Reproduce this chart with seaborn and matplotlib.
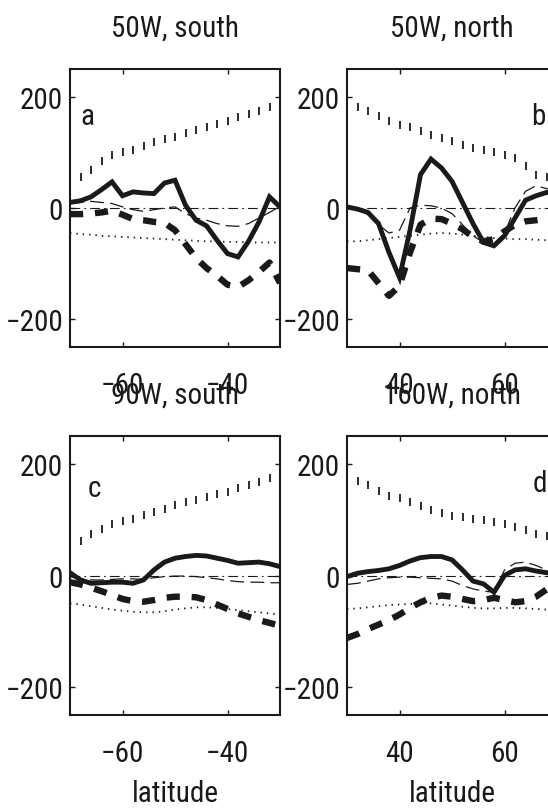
import os
import matplotlib
matplotlib.use("Agg")
import matplotlib.pyplot as plt
from matplotlib import font_manager as fm
from matplotlib.textpath import TextPath
import seaborn as sns

# ---------------- data ----------------
lat_south = [-70, -68, -66, -64, -62, -60, -58, -56, -54, -52, -50,
             -48, -46, -44, -42, -40, -38, -36, -34, -32, -30]
lat_north = [30, 32, 34, 36, 38, 40, 42, 44, 46, 48, 50,
             52, 54, 56, 58, 60, 62, 64, 66, 68, 70]

titles = ["50W, south", "50W, north", "90W, south", "160W, north"]
panel_letters = ["a", "b", "c", "d"]
xticks_south = [-60, -40]
xticks_north = [40, 60]
yticks = [-200, 0, 200]
xlabel_text = "latitude"

# panel a (50W, south)
a_upper = [45, 55, 68, 85, 95, 100, 105, 112, 118, 124, 128, 134, 140, 146, 151, 157, 163, 169, 175, 182, 192]
a_lower = [-45, -47, -48, -50, -51, -52, -53, -54, -55, -56, -57, -58, -59, -60, -60, -61, -61, -62, -62, -62, -62]
a_solid = [10, 13, 20, 33, 47, 22, 29, 27, 26, 45, 50, 5, -22, -32, -58, -82, -88, -60, -25, 20, 2]
a_thick = [-11, -11, -10, -8, -5, -12, -20, -22, -25, -27, -40, -65, -90, -108, -122, -138, -142, -130, -115, -98, -135]
a_thin = [8, 10, 12, 10, 8, 2, -3, -6, -3, 0, 2, -10, -18, -22, -28, -32, -33, -28, -18, -8, 3]

# panel b (50W, north)
b_upper = [190, 182, 175, 166, 156, 150, 145, 138, 132, 126, 120, 114, 108, 104, 100, 96, 90, 76, 60, 55, 52]
b_lower = [-60, -60, -58, -56, -54, -52, -50, -48, -46, -45, -46, -48, -50, -52, -54, -55, -56, -56, -57, -58, -58]
b_solid = [2, -2, -8, -28, -80, -125, -40, 60, 88, 72, 48, 10, -28, -62, -68, -50, -18, 14, 22, 28, 25]
b_thick = [-108, -110, -112, -135, -158, -140, -80, -30, -19, -20, -28, -38, -52, -60, -56, -42, -30, -24, -22, -19, -18]
b_thin = [2, -3, -12, -30, -45, -40, 0, 5, 4, 0, -10, -30, -50, -62, -64, -45, 0, 30, 40, 35, 30]

# panel c (90W, south)
c_upper = [52, 62, 74, 84, 92, 97, 102, 108, 114, 120, 126, 131, 136, 141, 146, 150, 156, 162, 167, 174, 185]
c_lower = [-50, -52, -55, -58, -61, -63, -65, -66, -66, -64, -61, -59, -57, -57, -58, -60, -62, -64, -66, -68, -70]
c_solid = [5, -8, -14, -13, -12, -12, -14, -8, 10, 24, 31, 34, 36, 35, 31, 27, 22, 23, 24, 21, 16]
c_thick = [-12, -16, -22, -28, -35, -42, -46, -47, -44, -40, -38, -38, -39, -44, -52, -60, -68, -74, -80, -85, -90]
c_thin = [-2, -6, -8, -8, -7, -6, -6, -7, -4, -2, -1, -1, -2, -4, -6, -9, -11, -12, -12, -13, -13]

# panel d (160W, north)
d_upper = [180, 170, 162, 152, 143, 138, 132, 125, 118, 112, 107, 104, 101, 99, 96, 92, 87, 82, 74, 70, 68]
d_lower = [-60, -59, -57, -55, -53, -52, -51, -50, -50, -52, -54, -56, -58, -59, -59, -58, -58, -59, -60, -61, -62]
d_solid = [-2, 4, 7, 9, 12, 18, 26, 32, 34, 34, 28, 10, -10, -15, -30, 0, 10, 12, 8, 5, 4]
d_thick = [-112, -105, -96, -88, -80, -70, -58, -48, -40, -36, -38, -42, -46, -44, -40, -44, -48, -46, -38, -25, -20]
d_thin = [-16, -14, -10, -6, -4, -3, -3, -4, -5, -6, -10, -18, -24, -28, -30, 10, 22, 24, 18, 10, 6]

# ---------------- style ----------------
sns.set_theme(style="ticks")
plt.rcParams['font.family'] = ['Liberation Sans', 'DejaVu Sans']
plt.rcParams['lines.scale_dashes'] = False
plt.rcParams['axes.unicode_minus'] = True

# pick the installed sans font whose "200" is closest to the tall/narrow look
TARGET_RATIO = 1.45      # ink width / ink height of "200"
TARGET_H_PX = 25.0       # digit height in pixels
TARGET_W_PX = 36.0       # ink width of "200" in pixels


def choose_font():
    prefixes = ("liberation sans", "dejavu sans", "noto sans", "roboto",
                "open sans", "lato", "inter", "arimo")
    bad = ("serif", "mono", "cjk", "bold", "light", "thin", "medium", "black",
           "italic", "oblique", "heavy", "book ", "math", "symbol", "emoji")
    best = None
    for f in fm.fontManager.ttflist:
        name = f.name.lower()
        base = os.path.basename(f.fname).lower()
        key = name + " " + base
        if not name.startswith(prefixes):
            continue
        rest = name
        for p in prefixes:
            if name.startswith(p):
                rest = name[len(p):].strip()
        if rest and not any(k in rest for k in ("condensed", "narrow")):
            continue
        if any(b in key for b in bad):
            continue
        if f.style != "normal":
            continue
        try:
            fp = fm.FontProperties(fname=f.fname)
            ext = TextPath((0, 0), "200", size=100, prop=fp).get_extents()
        except Exception:
            continue
        if ext.height <= 0:
            continue
        ratio = ext.width / ext.height
        score = abs(ratio - TARGET_RATIO)
        if best is None or score < best[0]:
            best = (score, f.fname, ext.width / 100.0, ext.height / 100.0)
    return best


best = choose_font()
if best:
    _, FONT_PATH, w_em, h_em = best
    size_h = TARGET_H_PX / h_em * 0.72
    size_w = TARGET_W_PX / w_em * 0.72
    FS = size_h ** 0.4 * size_w ** 0.6
else:
    FONT_PATH, FS = None, 19


def fprop(size=None):
    size = FS if size is None else size
    if FONT_PATH:
        return fm.FontProperties(fname=FONT_PATH, size=size)
    return fm.FontProperties(family=['Liberation Sans', 'DejaVu Sans'], size=size)


W, H = 548, 812
fig = plt.figure(figsize=(W / 100, H / 100), dpi=100)
fig.patch.set_facecolor("white")


def rect(l, t, w, h):
    return [l / W, 1 - (t + h) / H, w / W, h / H]


rects = [rect(70, 70, 210, 278), rect(347, 70, 210, 278),
         rect(70, 437, 210, 279), rect(347, 437, 210, 279)]

panels = [
    (lat_south, a_upper, a_lower, a_solid, a_thick, a_thin, xticks_south),
    (lat_north, b_upper, b_lower, b_solid, b_thick, b_thin, xticks_north),
    (lat_south, c_upper, c_lower, c_solid, c_thick, c_thin, xticks_south),
    (lat_north, d_upper, d_lower, d_solid, d_thick, d_thin, xticks_north),
]
letter_pos = [(-66.6, 151), (66.4, 151), (-65.3, 143), (66.8, 152)]

for i, (lat, up, lo, so, th, tn, xt) in enumerate(panels):
    ax = fig.add_axes(rects[i])
    ax.set_facecolor("white")
    # upper series drawn as short vertical ticks
    sns.lineplot(x=lat, y=up, ax=ax, color="k", marker="|", markersize=6,
                 markeredgewidth=1.3, markeredgecolor="k", linestyle="none")
    ax.axhline(0, color="k", lw=0.8, linestyle=(0, (7, 3, 1.2, 3)))
    sns.lineplot(x=lat, y=lo, ax=ax, color="k", lw=1.3, linestyle=(0, (1, 3.6)))
    sns.lineplot(x=lat, y=tn, ax=ax, color="k", lw=0.9, linestyle=(0, (10, 4.5)))
    sns.lineplot(x=lat, y=so, ax=ax, color="k", lw=3.5, solid_joinstyle="miter")
    sns.lineplot(x=lat, y=th, ax=ax, color="k", lw=4.6,
                 linestyle=(0, (9.5, 8.5)), dash_capstyle="butt")

    ax.set_xlim(lat[0], lat[-1])
    ax.set_ylim(-250, 250)
    ax.set_xticks(xt)
    ax.set_yticks(yticks)
    ax.tick_params(direction="in", top=True, right=True, length=3.5, width=1,
                   colors="k")
    ax.tick_params(axis="x", pad=17)
    ax.tick_params(axis="y", pad=5)
    for lbl in ax.get_xticklabels() + ax.get_yticklabels():
        lbl.set_fontproperties(fprop())
    for sp in ax.spines.values():
        sp.set_linewidth(1.5)
        sp.set_color("k")
    ax.set_title(titles[i], fontproperties=fprop(), pad=24, color="k")
    ax.text(letter_pos[i][0], letter_pos[i][1], panel_letters[i],
            fontproperties=fprop(), ha="center", va="baseline", color="k")
    if i >= 2:
        ax.set_xlabel(xlabel_text, fontproperties=fprop(), labelpad=9, color="k")
    else:
        ax.set_xlabel("")
    ax.set_ylabel("")

fig.savefig("out.png", dpi=100, facecolor="white")
